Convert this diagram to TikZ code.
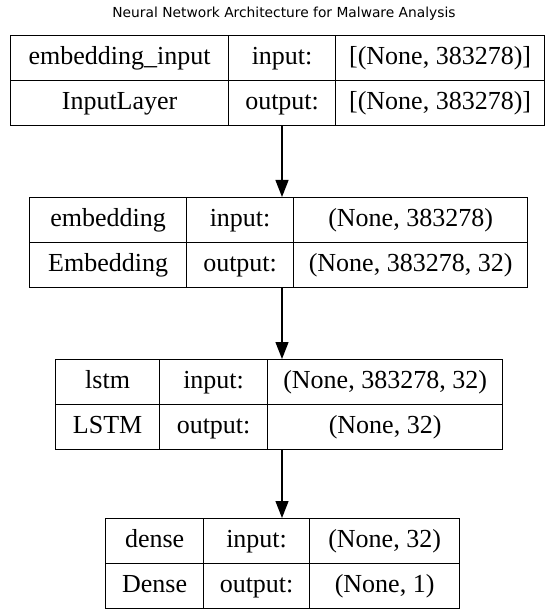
\documentclass[tikz,border=0pt]{standalone}
\usepackage{fontspec}
\setmainfont{Liberation Serif}
\newfontfamily\titlefont{DejaVu Sans}
\usetikzlibrary{arrows.meta}
\begin{document}
\begin{tikzpicture}[x=1pt,y=-1pt,
  cell/.style={draw, line width=1.2pt, minimum height=45pt, inner sep=0pt,
    text height=19pt, text depth=6pt,
    anchor=north west, font=\fontsize{26}{30}\selectfont},
  flow/.style={line width=1.3pt, -{Triangle[length=17pt,width=13pt]}}]
\useasboundingbox (0,0) rectangle (548,609);
\node[font=\titlefont\fontsize{13.8}{16}\selectfont] (title) at (284,14) {Neural Network Architecture for Malware Analysis};
\coordinate (ax) at (282,0);
% layer 1
\node[cell, minimum width=218pt] (a11) at (10,35) {embedding\_input};
\node[cell, minimum width=107pt] (a12) at (228,35) {input:};
\node[cell, minimum width=209pt] (a13) at (335,35) {[(None, 383278)]};
\node[cell, minimum width=218pt] (a21) at (10,80) {InputLayer};
\node[cell, minimum width=107pt] (a22) at (228,80) {output:};
\node[cell, minimum width=209pt] (a23) at (335,80) {[(None, 383278)]};
% layer 2
\node[cell, minimum width=157pt] (b11) at (29,197) {embedding};
\node[cell, minimum width=107pt] (b12) at (186,197) {input:};
\node[cell, minimum width=234pt] (b13) at (293,197) {(None, 383278)};
\node[cell, minimum width=157pt] (b21) at (29,242) {Embedding};
\node[cell, minimum width=107pt] (b22) at (186,242) {output:};
\node[cell, minimum width=234pt] (b23) at (293,242) {(None, 383278, 32)};
% layer 3
\node[cell, minimum width=104pt] (c11) at (55,359) {lstm};
\node[cell, minimum width=108pt] (c12) at (159,359) {input:};
\node[cell, minimum width=235pt] (c13) at (267,359) {(None, 383278, 32)};
\node[cell, minimum width=104pt] (c21) at (55,404) {LSTM};
\node[cell, minimum width=108pt] (c22) at (159,404) {output:};
\node[cell, minimum width=235pt] (c23) at (267,404) {(None, 32)};
% layer 4
\node[cell, minimum width=98pt] (d11) at (105,518) {dense};
\node[cell, minimum width=106pt] (d12) at (203,518) {input:};
\node[cell, minimum width=150pt] (d13) at (309,518) {(None, 32)};
\node[cell, minimum width=98pt] (d21) at (105,563) {Dense};
\node[cell, minimum width=106pt] (d22) at (203,563) {output:};
\node[cell, minimum width=150pt] (d23) at (309,563) {(None, 1)};
% arrows
\draw[flow] (a22.south -| ax) -- (b12.north -| ax);
\draw[flow] (b22.south -| ax) -- (c13.north -| ax);
\draw[flow] (c23.south -| ax) -- (d12.north -| ax);
\end{tikzpicture}
\end{document}
